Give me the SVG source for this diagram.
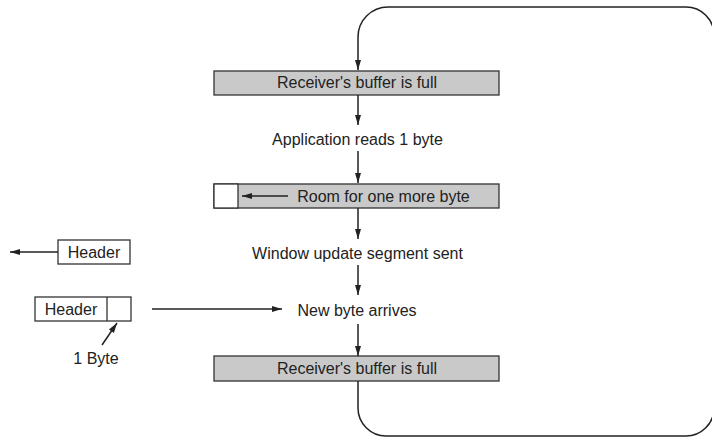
<svg xmlns="http://www.w3.org/2000/svg" width="712" height="439" viewBox="0 0 712 439">
<defs>
<style>
text{font-family:"Liberation Sans",Arial,sans-serif;font-size:16px;fill:#222;text-anchor:middle}
.buf{fill:#c9c9c9;stroke:#333;stroke-width:1.3}
.wb{fill:#fff;stroke:#333;stroke-width:1.3}
.ln{fill:none;stroke:#222;stroke-width:1.5}
</style>
<marker id="ah" markerUnits="userSpaceOnUse" markerWidth="10" markerHeight="8" viewBox="0 0 10 8" refX="10" refY="4" orient="auto">
<path d="M0,1 L10,4 L0,7 Z" fill="#222"/>
</marker>
</defs>
<rect width="712" height="439" fill="#fff"/>
<g id="buffer-full-1">
<rect class="buf" x="214" y="71" width="285" height="24"/>
<text x="357" y="88">Receiver's buffer is full</text>
</g>
<g id="app-reads">
<text x="357.5" y="145">Application reads 1 byte</text>
</g>
<g id="room">
<rect class="buf" x="214" y="184" width="285" height="24"/>
<rect class="wb" x="214" y="184" width="24" height="24"/>
<text x="383.5" y="202">Room for one more byte</text>
</g>
<g id="window-update">
<text x="357.5" y="259">Window update segment sent</text>
</g>
<g id="new-byte">
<text x="357" y="316">New byte arrives</text>
</g>
<g id="buffer-full-2">
<rect class="buf" x="214" y="356" width="285" height="25"/>
<text x="357" y="374">Receiver's buffer is full</text>
</g>
<g id="header-out">
<rect class="wb" x="58" y="240" width="72" height="24"/>
<text x="94" y="258">Header</text>
</g>
<g id="header-in">
<rect class="wb" x="35" y="297" width="96" height="24"/>
<line x1="107" y1="297" x2="107" y2="321" stroke="#333" stroke-width="1.3"/>
<text x="71" y="315">Header</text>
</g>
<g id="one-byte">
<text x="96" y="364">1 Byte</text>
</g>
<g id="connectors">
<path class="ln" d="M358,381 V408 A28,28 0 0 0 386,436 H686 A28,28 0 0 0 714,408 V35 A28,28 0 0 0 686,7 H388 A30,30 0 0 0 358,37 V70" marker-end="url(#ah)"/>
<path class="ln" d="M358,95 V125" marker-end="url(#ah)"/>
<path class="ln" d="M358,151 V183" marker-end="url(#ah)"/>
<path class="ln" d="M358,208 V239" marker-end="url(#ah)"/>
<path class="ln" d="M358,265 V295" marker-end="url(#ah)"/>
<path class="ln" d="M358,324 V356" marker-end="url(#ah)"/>
<path class="ln" d="M288,196 H242" marker-end="url(#ah)"/>
<path class="ln" d="M58,252 H10" marker-end="url(#ah)"/>
<path class="ln" d="M152,309 H282" marker-end="url(#ah)"/>
<path class="ln" d="M102,345 L117,323" marker-end="url(#ah)"/>
</g>
</svg>
